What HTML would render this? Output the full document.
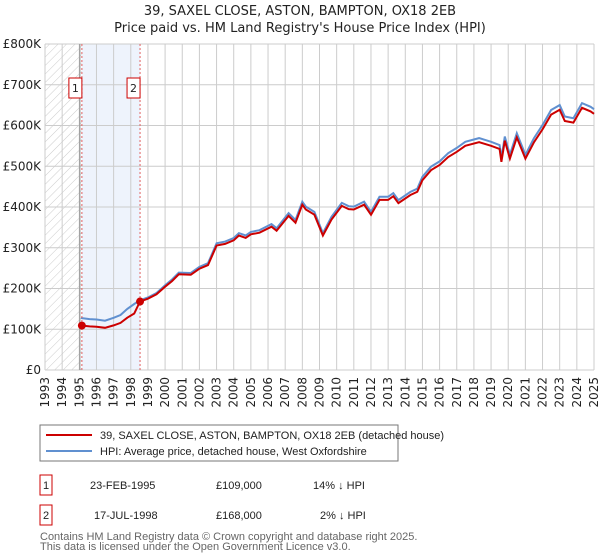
<!DOCTYPE html>
<html><head><meta charset="utf-8">
<style>
body{margin:0;background:#fff;font-family:"Liberation Sans","DejaVu Sans",sans-serif;}
svg{display:block}
</style></head>
<body>
<svg id="chart" width="600" height="560" xmlns="http://www.w3.org/2000/svg" font-family="DejaVu Sans, Liberation Sans, sans-serif">
<defs>
<pattern id="hatch" width="6" height="6" patternUnits="userSpaceOnUse" patternTransform="rotate(45)">
<line x1="0" y1="0" x2="0" y2="6" stroke="#ccc" stroke-width="1"/>
</pattern>
</defs>
<text x="300" y="15" text-anchor="middle" font-size="13" fill="#222">39, SAXEL CLOSE, ASTON, BAMPTON, OX18 2EB</text>
<text x="300" y="32" text-anchor="middle" font-size="13" fill="#222">Price paid vs. HM Land Registry's House Price Index (HPI)</text>
<g id="grid"></g>
<g id="marks"></g>
<g id="axes"></g>
<g font-family="Liberation Sans, sans-serif">
<rect x="40" y="425" width="358" height="36" fill="#fff" stroke="#777"/>
<line x1="46" y1="435" x2="92" y2="435" stroke="#cc0000" stroke-width="2"/>
<text x="100" y="439" font-size="11" fill="#222">39, SAXEL CLOSE, ASTON, BAMPTON, OX18 2EB (detached house)</text>
<line x1="46" y1="451" x2="92" y2="451" stroke="#6090d0" stroke-width="2"/>
<text x="100" y="455" font-size="11" fill="#222">HPI: Average price, detached house, West Oxfordshire</text>
<g font-size="11" fill="#222">
<rect x="40" y="475" width="12" height="20" fill="#fff" stroke="#cc0000"/>
<text x="46" y="489" text-anchor="middle">1</text>
<text x="90" y="489">23-FEB-1995</text>
<text x="216" y="489">£109,000</text>
<text x="313" y="489">14% ↓ HPI</text>
</g>
<g font-size="11" fill="#222">
<rect x="40" y="505" width="12" height="20" fill="#fff" stroke="#cc0000"/>
<text x="46" y="519" text-anchor="middle">2</text>
<text x="94" y="519">17-JUL-1998</text>
<text x="216" y="519">£168,000</text>
<text x="320" y="519">2% ↓ HPI</text>
</g>
<text x="40" y="540" font-size="11" fill="#666">Contains HM Land Registry data © Crown copyright and database right 2025.</text>
<text x="40" y="550" font-size="11" fill="#666">This data is licensed under the Open Government Licence v3.0.</text>
</g>
</svg>
<script>
const hpiDates=[1995.1,1995.6,1996.0,1996.5,1997.0,1997.4,1997.8,1998.2,1998.54,1999.0,1999.5,2000.0,2000.4,2000.8,2001.5,2002.0,2002.5,2003.0,2003.5,2004.0,2004.3,2004.7,2005.0,2005.5,2006.2,2006.5,2007.2,2007.6,2008.0,2008.2,2008.7,2009.2,2009.7,2010.3,2010.7,2011.0,2011.6,2012.0,2012.5,2013.0,2013.3,2013.6,2014.3,2014.7,2015.0,2015.5,2016.0,2016.5,2017.0,2017.5,2018.3,2019.0,2019.5,2019.6,2019.8,2020.1,2020.5,2021.0,2021.5,2022.0,2022.5,2023.0,2023.3,2023.8,2024.3,2024.8,2025.0];
const hpiValues=[127.6,125,124,121,128,135,150,162,171,178,189,208,222,239,238,253,262,311,315,324,336,330,339,343,358,348,385,368,413,401,388,336,376,410,402,401,413,388,425,425,434,417,437,445,474,499,512,532,545,560,569,560,552,520,573,528,581,528,569,601,638,650,622,618,655,646,640];
const saleDates=[1995.15,1998.54];
const salePrices=[109,168];
const saleLabels=["1","2"];
const yTicks=[0,100,200,300,400,500,600,700,800];
const yTickLabels=["£0","£100K","£200K","£300K","£400K","£500K","£600K","£700K","£800K"];
const xStart=1993,xEnd=2025;
const L=45,R=594,T=44,B=370;
const xs=v=>L+(v-xStart)/(xEnd-xStart)*(R-L);
const ys=v=>B-v/800*(B-T);
const NS="http://www.w3.org/2000/svg";
function mk(tag,attrs,parent){const e=document.createElementNS(NS,tag);for(const k in attrs)e.setAttribute(k,attrs[k]);parent.appendChild(e);return e;}
const grid=document.getElementById('grid'),marks=document.getElementById('marks'),axes=document.getElementById('axes');
let h=mk('rect',{x:L,y:T,width:xs(saleDates[0])-L,height:B-T,fill:'url(#hatch)'},grid);


let band=mk('rect',{x:xs(saleDates[0]),y:T,width:xs(saleDates[1])-xs(saleDates[0]),height:B-T,fill:'#eef3fc'},grid);


for(let i=0;i<yTicks.length;i++){
 const y=ys(yTicks[i]);
 let g=mk('line',{x1:L,x2:R,y1:y,y2:y,stroke:'#ccc'},grid);
 
 
 let t=mk('text',{x:L-4,y:y+4,'text-anchor':'end','font-size':'12',fill:'#222'},axes);
 t.textContent=yTickLabels[i];
 
 
}
for(let yr=xStart;yr<=xEnd;yr++){
 const x=xs(yr);
 let g=mk('line',{x1:x,x2:x,y1:T,y2:B,stroke:'#ccc'},grid);
 
 
 let t=mk('text',{x:0,y:0,'text-anchor':'end','font-size':'12',fill:'#222',transform:`translate(${x+4},${377}) rotate(-90)`},axes);
 t.textContent=yr;
 
 
}
let ax=mk('line',{x1:xs(saleDates[0])-2,x2:xs(saleDates[0])-2,y1:T,y2:B,stroke:'#888'},grid);


const hp=hpiDates.map((d,i)=>`${xs(d).toFixed(1)},${ys(hpiValues[i]).toFixed(1)}`).join(' ');
let hl=mk('polyline',{points:hp,fill:'none',stroke:'#6090d0','stroke-width':'2'},marks);


function hpiAt(d){for(let i=1;i<hpiDates.length;i++){if(d<=hpiDates[i]){const f=(d-hpiDates[i-1])/(hpiDates[i]-hpiDates[i-1]);return hpiValues[i-1]+f*(hpiValues[i]-hpiValues[i-1]);}}return hpiValues[hpiValues.length-1];}
const rp=[];
rp.push(`${xs(saleDates[0]).toFixed(1)},${ys(salePrices[0]).toFixed(1)}`);
hpiDates.forEach((d,i)=>{if(d<=saleDates[0])return;const k=d<saleDates[1]?0:1;const r=salePrices[k]/hpiAt(saleDates[k]);rp.push(`${xs(d).toFixed(1)},${ys(hpiValues[i]*r).toFixed(1)}`);});
let rl=mk('polyline',{points:rp.join(' '),fill:'none',stroke:'#cc0000','stroke-width':'2'},marks);


for(let i=0;i<saleDates.length;i++){
 const x=xs(saleDates[i]);
 let v=mk('line',{x1:x,x2:x,y1:T,y2:B,stroke:'#e06060','stroke-dasharray':'2,2'},marks);
 
 
 let c=mk('circle',{cx:x,cy:ys(salePrices[i]),r:4,fill:'#cc0000'},marks);
 
 
 let b=mk('rect',{x:x-13,y:78,width:13,height:20,fill:'#fff',stroke:'#cc0000'},marks);
 
 
 let t=mk('text',{x:x-6.5,y:92,'text-anchor':'middle','font-size':'11',fill:'#222'},marks);
 t.textContent=saleLabels[i];
 
 
}
</script>
</body></html>
